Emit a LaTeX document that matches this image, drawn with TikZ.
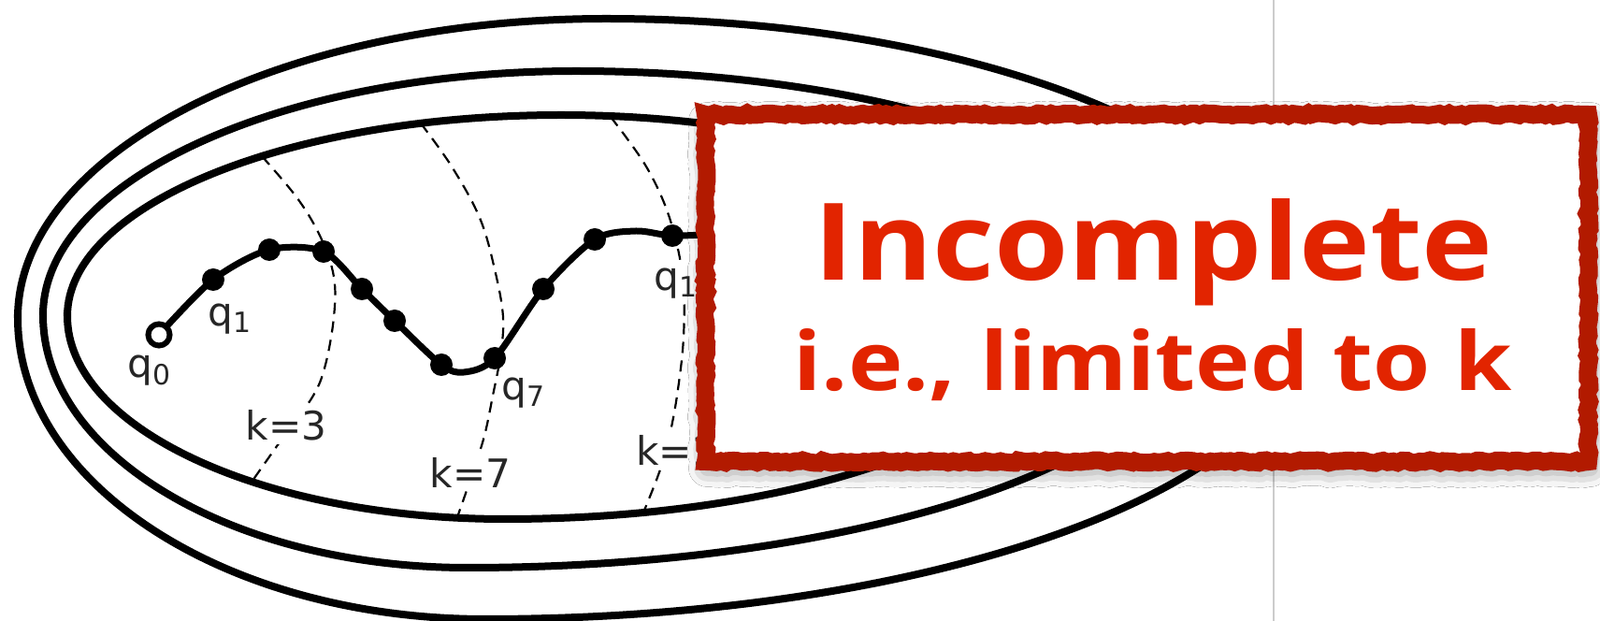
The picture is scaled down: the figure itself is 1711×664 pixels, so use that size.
\documentclass[tikz,border=0pt]{standalone}
\usepackage{fontspec}
\usepackage{xcolor}
\usepackage{graphicx}
\usetikzlibrary{decorations.pathmorphing,shadows.blur}
\newfontfamily\labelfont{DejaVu Sans}
\newfontfamily\alertfont{Open Sans}
\definecolor{alertred}{RGB}{226,36,0}
\definecolor{alertrim}{RGB}{178,26,0}
\newcommand{\sub}[1]{\textsubscript{\fontsize{8.5}{9}\selectfont#1}}

\begin{document}
\begin{tikzpicture}[x=0.1mm,y=-0.1mm,
  level/.style={line width=0.8mm},
  bound/.style={line width=0.22mm,dash pattern=on 1.2mm off 0.8mm},
  walk/.style={line width=0.7mm},
  state/.style={circle,fill=black,inner sep=0pt,minimum size=2.4mm},
  start/.style={circle,draw=black,fill=white,line width=0.6mm,inner sep=0pt,minimum size=2.3mm},
  lbl/.style={font=\labelfont\fontsize{12}{14}\selectfont,text=black!85,fill=white,inner sep=1pt},
  alert/.style={rectangle,draw=alertrim,fill=white,line width=1.9mm,
    minimum width=94.4mm,minimum height=37.1mm,inner sep=0pt,
    decorate,decoration={random steps,segment length=0.5mm,amplitude=0.15mm},
    blur shadow={shadow xshift=0.2mm,shadow yshift=-0.7mm,shadow blur radius=2mm,shadow opacity=60}},
  headline/.style={font=\alertfont\bfseries,text=alertred,inner sep=0pt},
  subline/.style={font=\alertfont\bfseries,text=alertred,inner sep=0pt}]
  \useasboundingbox (0,0) rectangle (1711,664);
  \fill[white] (0,0) rectangle (1711,664);
  % separator
  \draw[gray!40,line width=0.25mm] (1362,0) -- (1362,664);
  % the three levels
  \draw[level] (19,340) arc[start angle=180,end angle=90,x radius=62.9mm,y radius=32mm]
    arc[start angle=90,end angle=0,x radius=75mm,y radius=32mm]
    arc[start angle=0,end angle=-90,x radius=87.9mm,y radius=32.2mm]
    arc[start angle=-90,end angle=-180,x radius=50mm,y radius=32.2mm] -- cycle;
  \draw[level] (46,337) arc[start angle=180,end angle=90,x radius=57mm,y radius=26.1mm]
    arc[start angle=90,end angle=0,x radius=66.5mm,y radius=26.1mm]
    arc[start angle=0,end angle=-90,x radius=78.1mm,y radius=27mm]
    arc[start angle=-90,end angle=-180,x radius=45.4mm,y radius=27mm] -- cycle;
  \draw[level] (72,338) arc[start angle=180,end angle=90,x radius=52.8mm,y radius=21.5mm]
    arc[start angle=90,end angle=0,x radius=52.8mm,y radius=21.5mm]
    arc[start angle=0,end angle=-90,x radius=58.8mm,y radius=21.7mm]
    arc[start angle=-90,end angle=-180,x radius=46.8mm,y radius=21.7mm] -- cycle;
  % bounds
  \draw[bound] plot[smooth,tension=0.6] coordinates {(280,167) (318,212) (343,254) (357,296) (357,339) (348,390) (335,423) (306,463) (270,514)};
  \draw[bound] plot[smooth,tension=0.6] coordinates {(450,132) (483,178) (513,233) (529,288) (538,339) (535,381) (527,423) (518,466) (505,507) (489,553)};
  \draw[bound] plot[smooth,tension=0.6] coordinates {(653,125) (691,178) (716,233) (730,296) (731,360) (724,423) (715,470) (705,505) (688,548)};
  % the run
  \coordinate (s0) at (170,358);
  \draw[walk] plot[smooth,tension=0.5] coordinates {(s0) (228,299) (288,267) (346,269) (387,309) (422,343) (472,390) (496,398) (529,383) (581,309) (636,256) (680,247) (719,252) (770,250)};
  \node[state] (s1) at (228,299) {};
  \node[state] (s2) at (288,267) {};
  \node[state] (s3) at (346,269) {};
  \node[state] (s4) at (387,309) {};
  \node[state] (s5) at (422,343) {};
  \node[state] (s6) at (472,390) {};
  \node[state] (s7) at (529,383) {};
  \node[state] (s8) at (581,309) {};
  \node[state] (s9) at (636,256) {};
  \node[state] (s10) at (719,252) {};
  \node[start] (q0) at (s0) {};
  % labels
  \node[lbl] (lq0) at (160,396) {q\sub{0}};
  \node[lbl] (lq1) at (246,341) {q\sub{1}};
  \node[lbl] (lq7) at (560,420) {q\sub{7}};
  \node[lbl,anchor=west] (lq11) at (695,303) {q\sub{11}};
  \node[lbl] (k3) at (306,455) {k=3};
  \node[lbl] (k7) at (503,505) {k=7};
  \node[lbl,anchor=west] (k11) at (676,481) {k=11};
  % the verdict
  \node[alert] (verdict) at (1226.5,308) {};
  \node[headline,anchor=base west] (title) at (870,300) {\resizebox{72.6mm}{8.7mm}{Incomplete}};
  \node[subline,anchor=base west] (limit) at (848,418) {\resizebox{76.8mm}{6.6mm}{i.e., limited to k}};
\end{tikzpicture}
\end{document}
